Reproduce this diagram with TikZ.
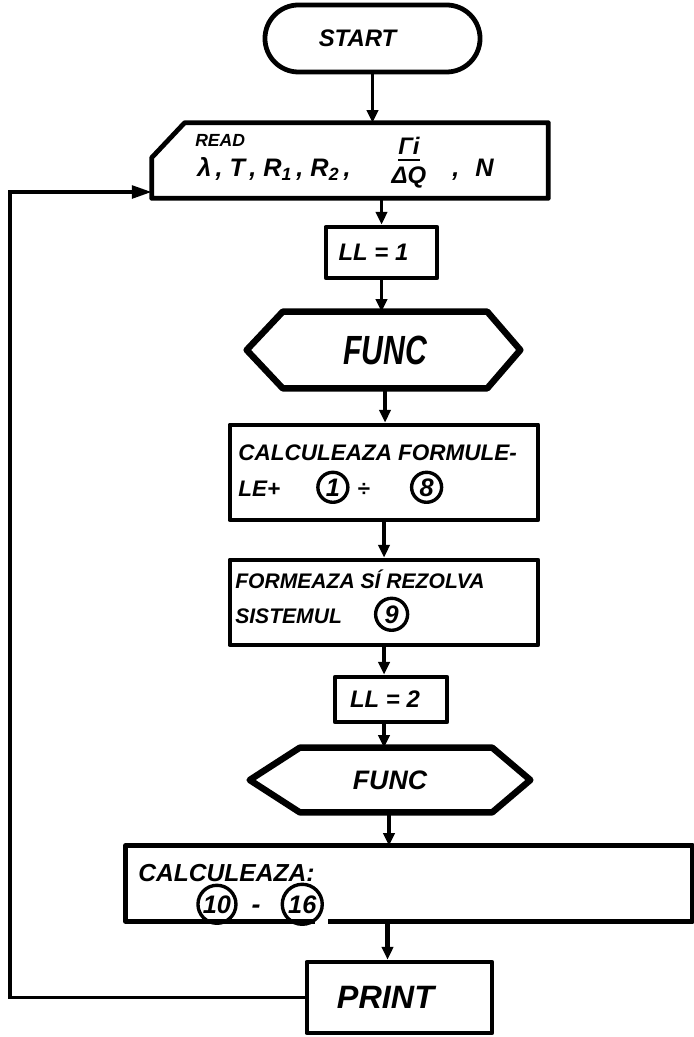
\documentclass[tikz,border=0pt]{standalone}
\usepackage{fontspec}
\usepackage{graphicx}
\setmainfont{Liberation Sans}
\usetikzlibrary{arrows.meta,shapes.misc}

% circled formula number
\newcommand{\cnum}[2][0.75cm]{\tikz[baseline=(cn.base)]\node[anchor=center,circle,draw,line width=2.4pt,inner sep=0pt,minimum size=#1,font=\bfseries\itshape\fontsize{18}{18}\selectfont] (cn) {#2};}

\begin{document}
\begin{tikzpicture}[x=0.025cm,y=-0.025cm,
  box/.style={draw,line width=3.4pt,line join=round,inner sep=0pt},
  hexline/.style={line width=4.6pt,line join=round},
  arr/.style={line width=2.8pt,-{Triangle[length=9pt,width=8pt]}},
  backline/.style={line width=2.4pt,-{Triangle[length=14pt,width=9pt]}},
  hand/.style={font=\bfseries\itshape\fontsize{#1}{#1}\selectfont,inner sep=0pt}]

\useasboundingbox (0,0) rectangle (693,1037);

% Start
\node[box,rounded rectangle,minimum width=5.375cm,minimum height=1.675cm,hand=17] (start) at (372.5,38.5) {START\hspace*{0.75cm}};

% Read block (cut corner)
\node[minimum width=9.9cm,minimum height=1.875cm] (read) at (350,160.5) {};
\draw[box] ([yshift=-0.875cm]read.north west) -- ([xshift=0.825cm]read.north west)
  -- (read.north east) -- (read.south east) -- (read.south west) -- cycle;
\node[hand=12.5,anchor=base west] (readlbl) at (195,147) {READ};
\node[hand=18,anchor=base west] (params) at (197,177)
  {λ\,, T\,, R\textsubscript{1}\,, R\textsubscript{2}\,,};
\node[hand=17,anchor=base] (gam) at (409,155) {Γi};
\node[hand=17,anchor=base] (dq) at (409,184) {ΔQ};
\draw[line width=1.6pt] (gam.south west |- 0,160) -- (gam.south east |- 0,160);
\node[hand=18,anchor=base west] (nn) at (452,177) {,\hspace{0.4cm}N};

% LL = 1
\node[box,minimum width=2.775cm,minimum height=1.275cm,hand=17] (ll1) at (381.5,252.5) {LL = 1\hspace*{0.4cm}};

% Func (first call)
\node[minimum width=5.1cm,minimum height=1.9cm,hand=29] (func1) at (385,350) {\scalebox{0.74}[1]{FUNC}};
\draw[hexline] (func1.north west) -- (func1.north east) -- ([xshift=0.825cm]func1.east)
  -- (func1.south east) -- (func1.south west) -- ([xshift=-0.9cm]func1.west) -- cycle;

% Formulas 1..8
\node[box,minimum width=7.7cm,minimum height=2.375cm] (calc1) at (384,472.5) {};
\node[hand=16,anchor=base west] (calc1a) at (238,460) {CALCULEAZA FORMULE-};
\node[hand=16,anchor=base west] (calc1b) at (238,496) {LE+\hspace{0.9cm}\cnum{1}\hspace{0.2cm}÷\hspace{1cm}\cnum{8}};

% System 9
\node[box,minimum width=7.7cm,minimum height=2.125cm] (form) at (384,602.5) {};
\node[hand=15,anchor=base west] (forma) at (235,588) {FORMEAZA SÍ REZOLVA};
\node[hand=15,anchor=base west] (formb) at (235,623) {SISTEMUL\hspace{0.8cm}\cnum[0.8cm]{9}};

% LL = 2
\node[box,minimum width=2.8cm,minimum height=1.125cm,hand=17] (ll2) at (391,699.5) {LL = 2\hspace*{0.3cm}};

% Func (second call)
\node[minimum width=4.8cm,minimum height=1.6cm,hand=19] (func2) at (396,780) {FUNC\hspace*{0.3cm}};
\draw[hexline] (func2.north west) -- (func2.north east) -- ([xshift=0.95cm]func2.east)
  -- (func2.south east) -- (func2.south west) -- ([xshift=-1.25cm]func2.west) -- cycle;

% Formulas 10..16 (box runs to the edge, small gap below)
\node[minimum width=14.15cm,minimum height=1.875cm] (calc2) at (409,883.5) {};
\draw[box] ([xshift=4.725cm]calc2.south west) -- (calc2.south west) -- (calc2.north west)
  -- (calc2.north east) -- (calc2.south east) -- ([xshift=5.05cm]calc2.south west);
\node[hand=17.5,anchor=base west] (calc2a) at (138,881) {CALCULEAZA:};
\node[hand=19,anchor=base west] (calc2b) at (196,913) {\cnum[0.95cm]{10}\hspace{0.35cm}-\hspace{0.5cm}\cnum[1cm]{16}};

% Print
\node[box,minimum width=4.625cm,minimum height=1.775cm,hand=23] (print) at (399.5,997.5) {PRINT\hspace*{0.7cm}};

% Flow
\draw[arr] (start.south) -- (start.south |- read.north);
\draw[arr] (ll1.north |- read.south) -- (ll1.north);
\draw[arr] (ll1.south) -- (ll1.south |- func1.north);
\draw[arr] (func1.south) -- (func1.south |- calc1.north);
\draw[arr] (calc1.south) -- (form.north);
\draw[arr] (form.south) -- (form.south |- ll2.north);
\draw[arr] (form.south |- ll2.south) -- (form.south |- func2.north);
\draw[arr] ([xshift=-0.175cm]func2.south) -- ([xshift=-0.175cm]func2.south |- calc2.north);
\draw[arr,line width=3.6pt] ([xshift=-0.3cm]print.north |- calc2.south) -- ([xshift=-0.3cm]print.north);

% Back to read
\coordinate (loopx) at (10,0);
\draw[backline] (print.west) -- (print.west -| loopx) |- ([yshift=-0.7875cm]read.west);
\end{tikzpicture}
\end{document}
